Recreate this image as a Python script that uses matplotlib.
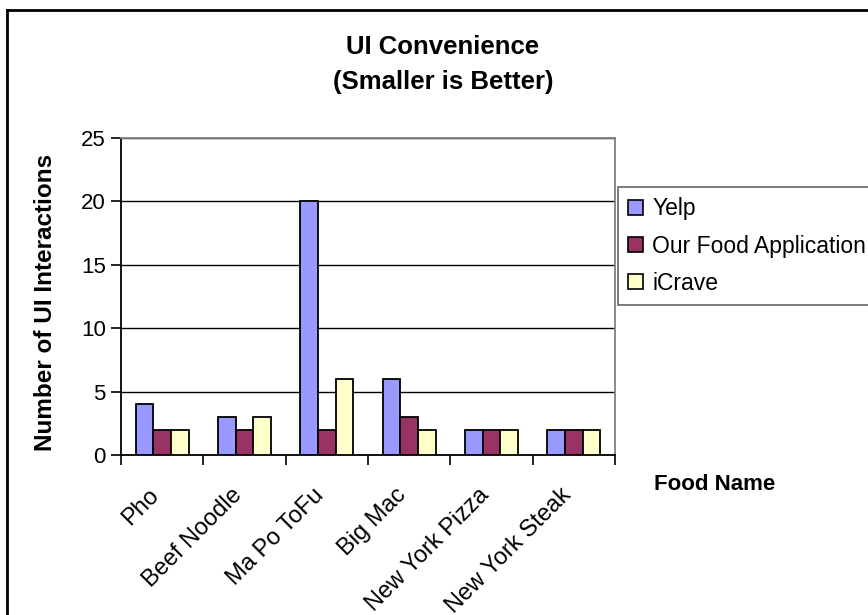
import matplotlib
matplotlib.use("Agg")
import matplotlib.pyplot as plt
import matplotlib.transforms as mtransforms
import numpy as np
from matplotlib.patches import Patch
from matplotlib.lines import Line2D

plt.rcParams['font.family'] = ['Liberation Sans', 'DejaVu Sans']

categories = ["Pho", "Beef Noodle", "Ma Po ToFu", "Big Mac", "New York Pizza", "New York Steak"]
series_names = ["Yelp", "Our Food Application", "iCrave"]
yelp = [4, 3, 20, 6, 2, 2]
our_app = [2, 2, 2, 3, 2, 2]
icrave = [2, 3, 6, 2, 2, 2]
colors = ["#9999FF", "#993366", "#FFFFCC"]
yticks = [0, 5, 10, 15, 20, 25]

W, H = 868, 615
fig = plt.figure(figsize=(W / 100, H / 100), dpi=100)
fig.patch.set_facecolor("white")

def fx(px):
    return px / W

def fy(py):
    return 1 - py / H

left, right, top, bottom = 121, 615, 138, 455
ax = fig.add_axes([fx(left), fy(bottom), fx(right) - fx(left), fy(top) - fy(bottom)])

n = len(categories)
x = np.arange(n)
bw = 0.215
for i, (vals, c, name) in enumerate(zip([yelp, our_app, icrave], colors, series_names)):
    ax.bar(x + (i - 1) * bw, vals, width=bw, color=c, edgecolor="black", linewidth=1.3,
           label=name, zorder=3)

ax.set_xlim(-0.5, n - 0.5)
ax.set_ylim(0, 25)
ax.set_yticks(yticks)
ax.set_yticklabels([str(v) for v in yticks], fontsize=16)
ax.yaxis.grid(True, color="black", linewidth=1.0, zorder=0)
ax.set_axisbelow(True)

ax.set_xticks(np.arange(-0.5, n, 1.0))
ax.set_xticklabels([])
ax.set_xticks(x, minor=True)
ax.set_xticklabels(categories, minor=True, rotation=45, ha="right", va="top",
                   rotation_mode="anchor", fontsize=17)
ax.tick_params(axis="x", which="minor", length=0, pad=21)
ax.tick_params(axis="x", which="major", length=7, width=1.2, direction="out", color="black")
ax.tick_params(axis="y", length=7, width=1.2, direction="out", color="black", pad=4)
shift = mtransforms.ScaledTranslation(-14 / 100, 0, fig.dpi_scale_trans)
for lab in ax.get_xticklabels(minor=True):
    lab.set_transform(lab.get_transform() + shift)

for s in ["top", "right"]:
    ax.spines[s].set_color("#808080")
    ax.spines[s].set_linewidth(1.3)
for s in ["left", "bottom"]:
    ax.spines[s].set_color("black")
    ax.spines[s].set_linewidth(1.3)

fig.text(fx(45.5), fy(302), "Number of UI Interactions", rotation=90, ha="center", va="center",
         fontsize=17.5, fontweight="bold")
fig.text(fx(443), fy(47), "UI Convenience", ha="center", va="center", fontsize=18.5, fontweight="bold")
fig.text(fx(443), fy(82), "(Smaller is Better)", ha="center", va="center", fontsize=18.5, fontweight="bold")
fig.text(fx(715), fy(484), "Food Name", ha="center", va="center", fontsize=16, fontweight="bold")

handles = [Patch(facecolor=c, edgecolor="black", linewidth=1.2) for c in colors]
leg = fig.legend(handles, series_names, loc="upper left",
                 bbox_to_anchor=(fx(618), fy(187)), bbox_transform=fig.transFigure,
                 fontsize=16.5, frameon=True, fancybox=False, edgecolor="#404040",
                 handlelength=0.65, handleheight=0.65, handletextpad=0.4,
                 labelspacing=0.62, borderpad=0.45, borderaxespad=0)
leg.get_frame().set_linewidth(1.2)

# outer chart border (top and left edges visible)
fig.add_artist(Line2D([fx(7), 1.0], [fy(10), fy(10)], color="black", linewidth=2, transform=fig.transFigure))
fig.add_artist(Line2D([fx(7), fx(7)], [fy(10), 0.0], color="black", linewidth=2, transform=fig.transFigure))

fig.savefig("out.png", dpi=100)
